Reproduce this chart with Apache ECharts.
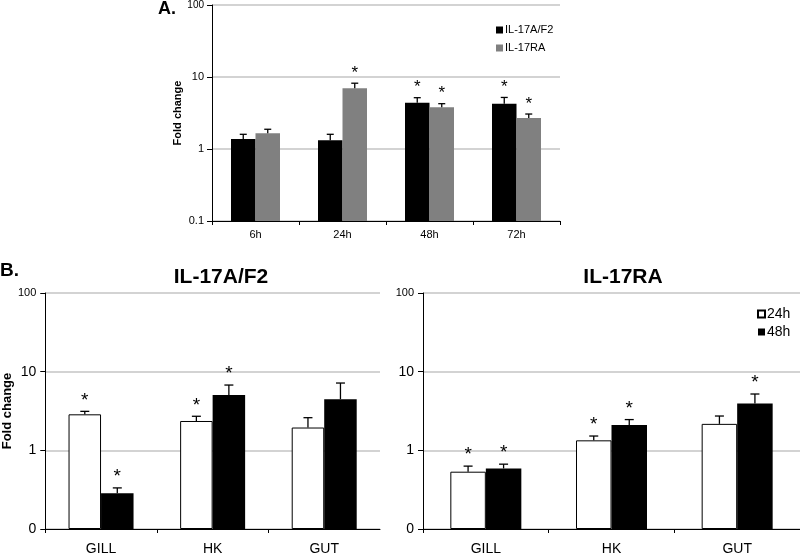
<!DOCTYPE html>
<html>
<head>
<meta charset="utf-8">
<script src="https://cdn.jsdelivr.net/npm/echarts@6/dist/echarts.min.js"></script>
<style>
html,body{margin:0;padding:0;background:#fff;}
#chart{width:800px;height:556px;}
</style>
</head>
<body>
<div id="chart"></div>
<script>
// ---------- DATA ----------
const timeCats = ['6h', '24h', '48h', '72h'];
const aIL17AF2 = [1.38, 1.32, 4.4, 4.26];
const aIL17AF2Err = [1.6, 1.6, 5.16, 5.2];     // upper end of error bar
const aIL17AF2Sig = [0, 0, 1, 1];
const aIL17RA = [1.65, 6.97, 3.8, 2.7];
const aIL17RAErr = [1.88, 8.2, 4.26, 3.06];
const aIL17RASig = [0, 1, 1, 1];

const tissueCats = ['GILL', 'HK', 'GUT'];
const bAF2h24 = [2.87, 2.36, 1.95];
const bAF2h24Err = [3.13, 2.71, 2.6];
const bAF2h24Sig = [1, 1, 0];
const bAF2h48 = [0.285, 5.06, 4.47];
const bAF2h48Err = [0.333, 6.76, 7.17];
const bAF2h48Sig = [1, 1, 0];
const bRAh24 = [0.535, 1.34, 2.17];
const bRAh24Err = [0.63, 1.52, 2.73];
const bRAh24Sig = [1, 1, 0];
const bRAh48 = [0.589, 2.1, 3.95];
const bRAh48Err = [0.667, 2.46, 5.2];
const bRAh48Sig = [1, 1, 1];

const logTicksA = ['0.1', '1', '10', '100'];
const logTicksB = ['0', '1', '10', '100'];

// ---------- CHART ----------
const FONT = '"Liberation Sans", Arial, sans-serif';
const chart = echarts.init(document.getElementById('chart'), null, {renderer: 'canvas'});

function tickLabel(list) {
  return function (v) {
    const idx = Math.round(Math.log10(v)) + 1;
    const t = list[idx] !== undefined ? list[idx] : String(v);
    return idx === 3 ? '{s|' + t + '}' : t;
  };
}

function errSeries(name, xi, yi, cats, vals, errs, sig, offset, capHalf, starGap, starSize) {
  return {
    type: 'custom', name: name + '_err', xAxisIndex: xi, yAxisIndex: yi,
    silent: true, clip: false, z: 5,
    data: cats.map((c, i) => [i, vals[i], errs[i], sig[i]]),
    renderItem: function (params, api) {
      const base = api.coord([api.value(0), api.value(1)]);
      const top = api.coord([api.value(0), api.value(2)]);
      const cx = base[0] + offset;
      const st = {stroke: '#000', lineWidth: 1.3};
      const ch = [
        {type: 'line', shape: {x1: cx, y1: base[1], x2: cx, y2: top[1]}, style: st},
        {type: 'line', shape: {x1: cx - capHalf, y1: top[1], x2: cx + capHalf, y2: top[1]}, style: st}
      ];
      if (api.value(3)) {
        ch.push({type: 'text', x: cx, y: top[1] - starGap,
          style: {text: '*', fill: '#000', font: starSize + 'px ' + FONT,
                  textAlign: 'center', textVerticalAlign: 'middle'}});
      }
      return {type: 'group', children: ch};
    }
  };
}

function barSeries(name, xi, yi, vals, w, fill) {
  return {
    type: 'bar', name: name, xAxisIndex: xi, yAxisIndex: yi,
    data: vals, barWidth: w, barGap: '0%',
    itemStyle: {color: fill, borderColor: '#000', borderWidth: fill === '#ffffff' ? 1 : 0}
  };
}

function yAx(gi, labels, fs, nameShow) {
  return {
    type: 'log', logBase: 10, min: 0.1, max: 100, gridIndex: gi,
    startValue: 0.1,
    name: nameShow ? 'Fold change' : '', nameLocation: 'middle',
    nameGap: gi === 0 ? 27 : 25,
    nameTextStyle: {fontFamily: FONT, fontWeight: 'bold', fontSize: gi === 0 ? 11 : 13, color: '#000'},
    axisLine: {show: true, lineStyle: {color: '#000', width: 1}},
    axisTick: {show: true, length: 5, lineStyle: {color: '#000'}},
    axisLabel: {fontFamily: FONT, fontSize: fs, color: '#000', margin: gi === 0 ? 8 : 9,
      formatter: tickLabel(labels), rich: {s: {fontSize: gi === 0 ? 10 : 11, fontFamily: FONT, color: '#000'}}},
    splitLine: {show: true, lineStyle: {color: '#c4c4c4', width: 1.5}},
    minorTick: {show: false}, minorSplitLine: {show: false}
  };
}

function xAx(gi, cats, fs, margin) {
  return {
    type: 'category', data: cats, gridIndex: gi,
    axisLine: {lineStyle: {color: '#000', width: 1}},
    axisTick: {show: true, length: 4, lineStyle: {color: '#000'}},
    axisLabel: {fontFamily: FONT, fontSize: fs, color: '#000', margin: margin},
    splitLine: {show: false}
  };
}

const option = {
  animation: false,
  backgroundColor: '#fff',
  textStyle: {fontFamily: FONT},
  title: [
    {text: 'A.', left: 158, top: 0, padding: 0, textStyle: {fontFamily: FONT, fontWeight: 'bold', fontSize: 18, color: '#000'}},
    {text: 'B.', left: 0, top: 261, padding: 0, textStyle: {fontFamily: FONT, fontWeight: 'bold', fontSize: 19, color: '#000'}},
    {text: 'IL-17A/F2', left: 221, top: 267, padding: 0, textAlign: 'center', textStyle: {fontFamily: FONT, fontWeight: 'bold', fontSize: 21, color: '#000'}},
    {text: 'IL-17RA', left: 623, top: 267, padding: 0, textAlign: 'center', textStyle: {fontFamily: FONT, fontWeight: 'bold', fontSize: 21, color: '#000'}}
  ],
  legend: [
    {data: ['IL-17A/F2', 'IL-17RA'], orient: 'vertical', left: 496, top: 24, padding: 0,
     itemWidth: 7, itemHeight: 7, itemGap: 6, icon: 'rect',
     textStyle: {fontFamily: FONT, fontSize: 11, color: '#000', lineHeight: 12, padding: [0, 0, 0, -3]}},
    {data: ['24h', '48h'], orient: 'vertical', left: 757, top: 307, padding: 0,
     itemWidth: 7, itemHeight: 7, itemGap: 4, icon: 'rect',
     textStyle: {fontFamily: FONT, fontSize: 14, color: '#000', lineHeight: 14, padding: [0, 0, 0, -3]}}
  ],
  grid: [
    {left: 212, top: 5, width: 348, height: 216},
    {left: 39, top: 293, width: 341, height: 239},
    {left: 423, top: 293, width: 377, height: 239}
  ],
  xAxis: [xAx(0, timeCats, 11, 8), xAx(1, tissueCats, 14, 13), xAx(2, tissueCats, 14, 13)],
  yAxis: [yAx(0, logTicksA, 11, true), yAx(1, logTicksB, 14, true), yAx(2, logTicksB, 14, false)],
  series: [
    barSeries('IL-17A/F2', 0, 0, aIL17AF2, 24.5, '#000000'),
    barSeries('IL-17RA', 0, 0, aIL17RA, 24.5, '#808080'),
    errSeries('IL-17A/F2', 0, 0, timeCats, aIL17AF2, aIL17AF2Err, aIL17AF2Sig, -12.25, 3.5, 10, 17),
    errSeries('IL-17RA', 0, 0, timeCats, aIL17RA, aIL17RAErr, aIL17RASig, 12.25, 3.5, 10, 17),

    barSeries('24h', 1, 1, bAF2h24, 32.5, '#ffffff'),
    barSeries('48h', 1, 1, bAF2h48, 32.5, '#000000'),
    errSeries('24h', 1, 1, tissueCats, bAF2h24, bAF2h24Err, bAF2h24Sig, -16.25, 4.5, 11, 19),
    errSeries('48h', 1, 1, tissueCats, bAF2h48, bAF2h48Err, bAF2h48Sig, 16.25, 4.5, 11, 19),

    barSeries('24h', 2, 2, bRAh24, 35.5, '#ffffff'),
    barSeries('48h', 2, 2, bRAh48, 35.5, '#000000'),
    errSeries('24h', 2, 2, tissueCats, bRAh24, bRAh24Err, bRAh24Sig, -17.75, 4.5, 11, 19),
    errSeries('48h', 2, 2, tissueCats, bRAh48, bRAh48Err, bRAh48Sig, 17.75, 4.5, 11, 19)
  ]
};
chart.setOption(option);
</script>
</body>
</html>
